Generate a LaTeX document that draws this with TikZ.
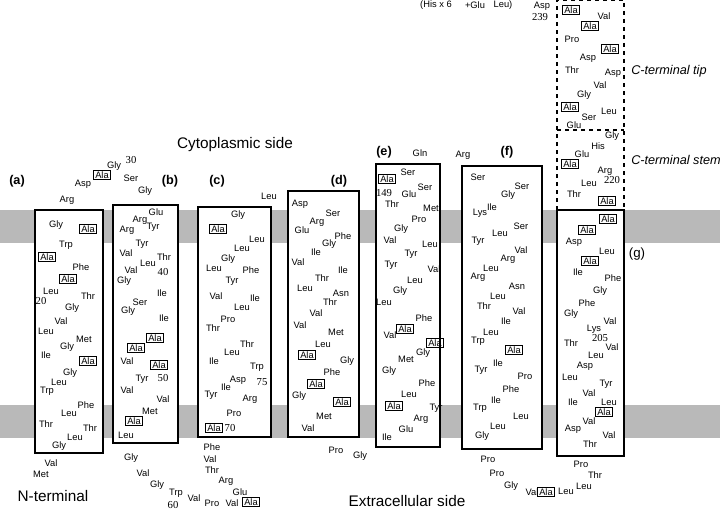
\documentclass[tikz,border=0pt]{standalone}
\usepackage{fontspec}
\setmainfont{Liberation Sans}
\newfontfamily\numf{Liberation Serif}
\begin{document}
\begin{tikzpicture}[x=0.75pt,y=-0.75pt,
  res/.style={font=\fontsize{7}{8}\selectfont,inner sep=0pt},
  ala/.style={font=\fontsize{7}{8}\selectfont,draw,line width=0.7pt,inner sep=1pt},
  num/.style={font=\numf\fontsize{8}{9}\selectfont,inner sep=0pt},
  hx/.style={draw,line width=1.6pt,fill=white},
  lab/.style={font=\bfseries\fontsize{9.5}{10}\selectfont},
  big/.style={font=\fontsize{11.5}{13}\selectfont},
  ital/.style={font=\itshape\fontsize{9.5}{12}\selectfont}]
\useasboundingbox (0,0) rectangle (720,510);
\fill[gray!55] (0,210) rectangle (720,243);
\fill[gray!55] (0,405) rectangle (720,438);
% helices
\draw[hx] (35,210) rectangle (103,453);
\draw[hx] (113,205) rectangle (178,443);
\draw[hx] (198,207) rectangle (271,437);
\draw[hx] (288,191) rectangle (359,437);
\draw[hx] (376,164) rectangle (440,447);
\draw[hx] (462,166) rectangle (542,449);
\draw[hx] (557,210) rectangle (624,456);
\draw[dashed,line width=0.8pt] (557,210) -- (557,0) -- (624,0) -- (624,210);
\draw[dashed,line width=0.8pt] (557,130) -- (624,130);
% residues
\foreach \x/\y/\t [count=\i] in {
56/225/Gly,66/245/Trp,81/267/Phe,51/291/Leu,88/296/Thr,72/308/Gly,61/321/Val,46/331/Leu,84/339/Met,67/347/Gly,46/355/Ile,70/373/Gly,59/382/Leu,47/391/Trp,86/405/Phe,69/413/Leu,46/424/Thr,90/428/Thr,75/437/Leu,59/446/Gly,51/463/Val,41/474/Met,
67/200/Arg,83/184/Asp,114/166/Gly,131/178/Ser,145/191/Gly,
156/212/Glu,140/220/Arg,127/230/Arg,153/227/Tyr,142/244/Tyr,126/253/Val,164/257/Thr,148/263/Leu,131/270/Val,124/281/Gly,162/293/Ile,140/302/Ser,128/311/Gly,164/318/Ile,127/361/Val,142/379/Tyr,127/390/Val,163/399/Val,150/411/Met,126/435/Leu,
131/458/Gly,143/473/Val,157/485/Gly,176/493/Trp,194/498/Val,212/503/Pro,232/503/Val,240/492/Glu,226/481/Arg,212/470/Thr,210/459/Val,212/447/Phe,
269/196/Leu,238/215/Gly,257/239/Leu,242/248/Leu,228/259/Gly,214/268/Leu,251/270/Phe,232/281/Tyr,216/296/Val,255/298/Ile,242/307/Leu,228/319/Pro,213/328/Thr,247/344/Thr,232/352/Leu,214/361/Ile,257/367/Trp,238/380/Asp,226/387/Ile,211/395/Tyr,250/399/Arg,234/413/Pro,
300/204/Asp,333/213/Ser,317/222/Arg,302/230/Glu,343/236/Phe,329/244/Gly,316/252/Ile,298/262/Val,343/270/Ile,322/278/Thr,305/288/Leu,341/293/Asn,330/302/Thr,316/313/Val,300/325/Val,336/332/Met,323/344/Leu,347/361/Gly,332/372/Phe,299/396/Gly,324/416/Met,308/428/Val,336/450/Pro,360/456/Gly,
420/153/Gln,463/155/Arg,408/172/Ser,425/187/Ser,409/194/Glu,392/204/Thr,431/208/Met,419/219/Pro,401/229/Gly,390/240/Val,430/244/Leu,411/254/Tyr,391/265/Tyr,434/269/Val,415/280/Leu,400/291/Gly,384/302/Leu,424/318/Phe,390/335/Val,423/353/Gly,406/359/Met,389/371/Gly,427/383/Phe,409/394/Leu,436/408/Tyr,421/419/Arg,406/429/Glu,387/437/Ile,
478/177/Ser,522/186/Ser,508/195/Gly,492/207/Ile,480/213/Lys,521/226/Ser,500/233/Leu,478/241/Tyr,521/250/Val,508/259/Arg,491/268/Leu,478/277/Arg,517/286/Asn,498/296/Leu,484/306/Thr,519/311/Val,506/321/Ile,491/332/Leu,478/341/Trp,498/363/Ile,481/370/Tyr,525/376/Pro,511/389/Phe,496/400/Ile,480/408/Trp,521/416/Leu,498/426/Leu,482/436/Gly,488/459/Pro,497/473/Pro,511/486/Gly,532/492/Val,566/491/Leu,584/486/Leu,595/475/Thr,581/464/Pro,
598/146/His,582/154/Glu,605/171/Arg,589/183/Leu,574/194/Thr,574/242/Asp,607/251/Leu,578/272/Ile,613/278/Phe,600/291/Gly,587/303/Phe,571/314/Gly,610/321/Val,594/329/Lys,571/343/Thr,612/347/Val,596/355/Leu,585/366/Asp,570/377/Leu,606/384/Tyr,589/393/Val,573/402/Ile,609/402/Leu,589/421/Val,573/429/Asp,609/435/Val,590/444/Thr,612/136/Gly,
604/16/Val,572/39/Pro,588/58/Asp,572/70/Thr,613/73/Asp,600/85/Val,584/95/Gly,609/111/Leu,589/117/Ser,574/125/Glu,
542/6/Asp,436/5/(His x 6,475/5/+Glu,503/5/Leu)}
  \node[res] (r\i) at (\x,\y) {\t};
\foreach \x/\y [count=\i] in {88/229,47/257,68/279,88/361,102/175,155/338,136/348,159/365,134/421,251/502,218/229,214/428,307/355,316/384,342/402,387/179,405/329,435/343,394/406,514/350,546/492,570/164,607/201,608/219,587/230,590/261,604/412,571/10,590/26,610/49,570/107}
  \node[ala] (a\i) at (\x,\y) {Ala};
\foreach \x/\y/\t [count=\i] in {41/301/20,131/160/30,163/272/40,163/378/50,173/505/60,230/428/70,262/382/75,384/193/149,612/180/220,600/338/205,540/17/239}
  \node[num] (n\i) at (\x,\y) {\t};
\node[lab] (la) at (17,181) {(a)};
\node[lab] (lb) at (170,181) {(b)};
\node[lab] (lc) at (217,181) {(c)};
\node[lab] (ld) at (339,181) {(d)};
\node[lab] (le) at (384,152) {(e)};
\node[lab] (lf) at (507,152) {(f)};
\node[font=\fontsize{10}{12}\selectfont] (lg) at (637,254) {(g)};
\node[big] (cyto) at (235,145) {Cytoplasmic side};
\node[big] (extra) at (407,501) {Extracellular side};
\node[big] (nterm) at (53,496) {N-terminal};
\node[ital,anchor=west,inner sep=0pt] (tip) at (631,71) {C-terminal tip};
\node[ital,anchor=west,inner sep=0pt] (stem) at (631,160) {C-terminal stem};
\end{tikzpicture}
\end{document}
